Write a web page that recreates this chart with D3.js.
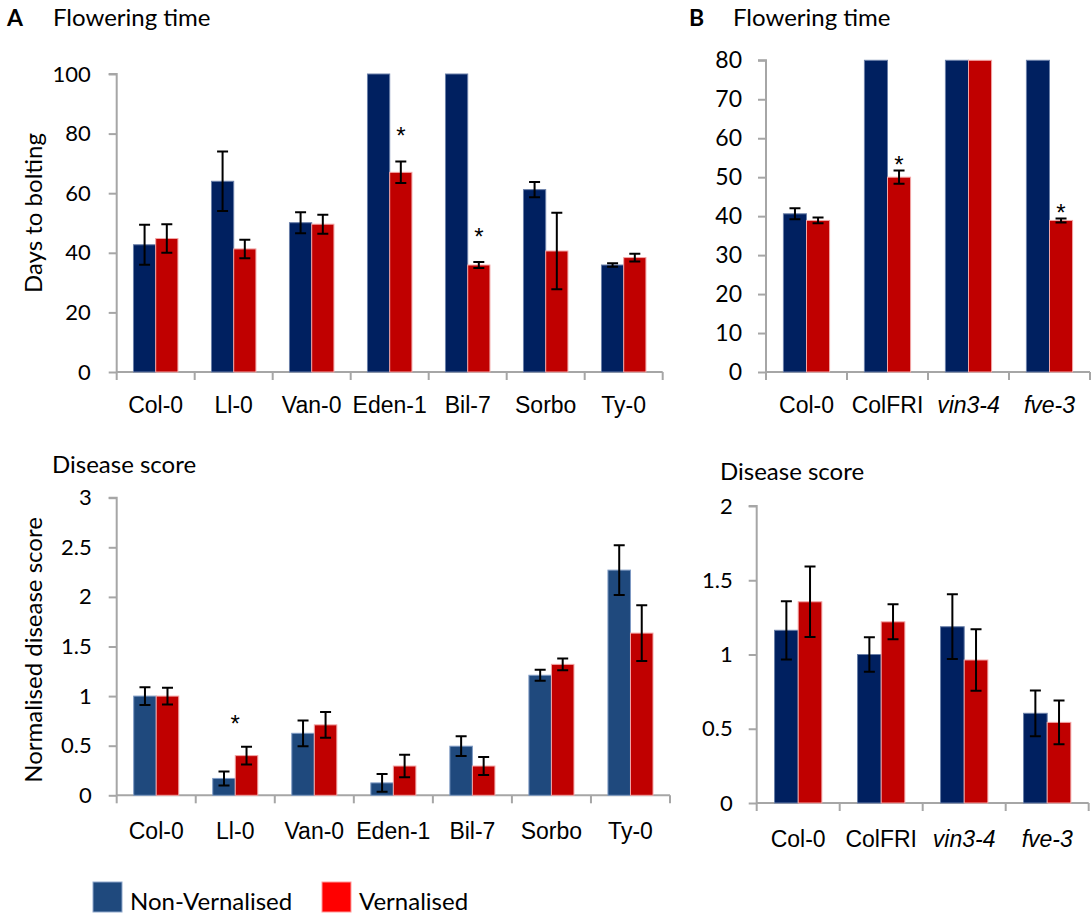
<!DOCTYPE html>
<html><head><meta charset="utf-8">
<script src="https://cdn.jsdelivr.net/npm/d3@7"></script>
<style>
html,body{margin:0;padding:0;background:#fff;}
svg{display:block;font-family:Lato,"Open Sans",sans-serif;}
</style></head>
<body>
<svg id="chart" width="1091" height="915"></svg>
<script>
// ---------- DATA ----------
const catsA = ["Col-0","Ll-0","Van-0","Eden-1","Bil-7","Sorbo","Ty-0"];
const catsB = ["Col-0","ColFRI","vin3-4","fve-3"];
const italicB = [false,false,true,true];
const seriesNames = ["Non-Vernalised","Vernalised"];

const flowA_nonVern    = [42.7, 64.0, 50.1, 100, 100, 61.2, 35.9];
const flowA_nonVernErr = [6.7, 10.0, 3.5, 0, 0, 2.6, 0.6];
const flowA_vern       = [44.8, 41.3, 49.6, 67.0, 35.9, 40.6, 38.4];
const flowA_vernErr    = [4.8, 3.1, 3.2, 3.6, 1.0, 12.8, 1.3];
const flowA_sig        = [false, false, false, true, true, false, false];

const flowB_nonVern    = [40.6, 80, 80, 80];
const flowB_nonVernErr = [1.4, 0, 0, 0];
const flowB_vern       = [38.9, 50.0, 80, 38.9];
const flowB_vernErr    = [0.75, 1.7, 0, 0.5];
const flowB_sig        = [false, true, false, true];

const disA_nonVern    = [1.0, 0.17, 0.625, 0.125, 0.495, 1.21, 2.27];
const disA_nonVernErr = [0.09, 0.07, 0.13, 0.09, 0.10, 0.055, 0.25];
const disA_vern       = [1.0, 0.40, 0.71, 0.295, 0.295, 1.32, 1.635];
const disA_vernErr    = [0.085, 0.09, 0.13, 0.114, 0.09, 0.06, 0.28];
const disA_sig        = [false, true, false, false, false, false, false];

const disB_nonVern    = [1.163, 1.0, 1.187, 0.604];
const disB_nonVernErr = [0.196, 0.116, 0.218, 0.154];
const disB_vern       = [1.355, 1.22, 0.963, 0.543];
const disB_vernErr    = [0.237, 0.118, 0.207, 0.147];
const disB_sig        = [false, false, false, false];

const ticksFlowA = [0,20,40,60,80,100];
const ticksFlowB = [0,10,20,30,40,50,60,70,80];
const ticksDisA  = [0,0.5,1,1.5,2,2.5,3];
const ticksDisB  = [0,0.5,1,1.5,2];

// ---------- DRAW ----------
const svg = d3.select("#chart");
const AXIS = "#a6a6a6";

function drawChart(c){
  const g = svg.append("g");
  const x = d3.scaleBand().domain(c.cats).range([c.x0, c.x1]).padding(0);
  const y = d3.scaleLinear().domain([0, c.max]).range([c.yb, c.yt]);
  const inner = d3.scaleBand().domain([0,1])
      .range([x.bandwidth()*0.215, x.bandwidth()*0.785]).padding(0);

  // y axis
  const ya = d3.axisLeft(y).tickValues(c.ticks).tickSize(8).tickPadding(c.tickPad)
      .tickFormat(d => String(d));
  const yg = g.append("g").attr("transform", `translate(${c.x0},0)`).call(ya);
  yg.select(".domain").attr("stroke", AXIS).attr("stroke-width", 2)
    .attr("d", `M-8,${c.yt}H0V${c.yb}`);
  yg.selectAll(".tick line").attr("stroke", AXIS).attr("stroke-width", 2);
  yg.selectAll(".tick text").attr("fill","#000").style("font-size", c.tickFs+"px")
    .style("font-family","Lato");

  // x axis
  const xa = d3.axisBottom(x).tickSize(0).tickPadding(0).tickFormat("");
  const xg = g.append("g").attr("transform", `translate(0,${c.yb})`).call(xa);
  xg.select(".domain").attr("stroke", AXIS).attr("stroke-width", 2)
    .attr("d", `M${c.x0},0H${c.x1}`);
  const bounds = c.cats.map(d => x(d)).concat([x(c.cats[c.cats.length-1]) + x.bandwidth()]);
  xg.selectAll("line.bt").data(bounds).join("line").attr("class","bt")
    .attr("x1", d=>d).attr("x2", d=>d).attr("y1", 0).attr("y2", 8)
    .attr("stroke", AXIS).attr("stroke-width", 2);
  xg.selectAll("text.xl").data(c.cats).join("text").attr("class","xl")
    .attr("x", d => x(d) + x.bandwidth()/2).attr("y", c.xlabDy)
    .attr("text-anchor","middle").style("font-size", c.xFs+"px")
    .style("font-style", (d,i) => c.italic && c.italic[i] ? "italic" : "normal")
    .attr("fill","#000").text(d => d);

  // bars
  const rows = [];
  c.cats.forEach((cat,i) => {
    rows.push({cat, s:0, v:c.s0[i], e:c.e0[i]});
    rows.push({cat, s:1, v:c.s1[i], e:c.e1[i]});
  });
  g.selectAll("rect.bar").data(rows).join("rect").attr("class","bar")
    .attr("x", d => x(d.cat) + inner(d.s))
    .attr("width", inner.bandwidth())
    .attr("y", d => y(d.v)).attr("height", d => y(0) - y(d.v))
    .attr("fill", d => c.fill[d.s]).attr("stroke", d => c.stroke[d.s]).attr("stroke-width", 1);

  // error bars
  const eb = rows.filter(d => d.e > 0);
  const cx = d => x(d.cat) + inner(d.s) + inner.bandwidth()/2;
  g.selectAll("path.err").data(eb).join("path").attr("class","err")
    .attr("d", d => {
      const X = cx(d), t = y(d.v + d.e), b = y(d.v - d.e);
      return `M${X},${t}V${b}M${X-5.5},${t}H${X+5.5}M${X-5.5},${b}H${X+5.5}`;
    })
    .attr("fill","none").attr("stroke","#000").attr("stroke-width", 2);

  // significance (asterisk glyph centre placed sigOff px above the error-bar top)
  const sig = c.cats.map((cat,i) => ({cat, i})).filter(d => c.sig[d.i]);
  g.selectAll("text.sig").data(sig).join("text").attr("class","sig")
    .attr("x", d => c.sigAtGroup ? x(d.cat) + x.bandwidth()/2
                                 : x(d.cat) + inner(1) + inner.bandwidth()/2)
    .attr("y", d => y(c.s1[d.i] + c.e1[d.i]) - c.sigOff + 0.57*24)
    .attr("text-anchor","middle")
    .style("font-family","'Liberation Sans',Arial,sans-serif")
    .style("font-size","24px").attr("fill","#000").text("*");
}

const darkFill = ["#002060","#C00000"], darkStroke = ["#6a7fa8","#f2a6a6"];
const midFill  = ["#1F497D","#C00000"], midStroke  = ["#7f9bc4","#f2a6a6"];

drawChart({cats:catsA, x0:116.7, x1:662.7, yb:372, yt:74, max:100, ticks:ticksFlowA,
  s0:flowA_nonVern, e0:flowA_nonVernErr, s1:flowA_vern, e1:flowA_vernErr, sig:flowA_sig,
  sigOff:31, sigAtGroup:false, fill:darkFill, stroke:darkStroke, tickFs:22, tickPad:18, xFs:23, xlabDy:41});
drawChart({cats:catsB, italic:italicB, x0:766, x1:1090, yb:372, yt:60.3, max:80, ticks:ticksFlowB,
  s0:flowB_nonVern, e0:flowB_nonVernErr, s1:flowB_vern, e1:flowB_vernErr, sig:flowB_sig,
  sigOff:11, sigAtGroup:false, fill:darkFill, stroke:darkStroke, tickFs:23, tickPad:16, xFs:23, xlabDy:41});
drawChart({cats:catsA, x0:116.7, x1:670, yb:795.3, yt:497.7, max:3, ticks:ticksDisA,
  s0:disA_nonVern, e0:disA_nonVernErr, s1:disA_vern, e1:disA_vernErr, sig:disA_sig,
  sigOff:28, sigAtGroup:true, fill:midFill, stroke:midStroke, tickFs:22, tickPad:17, xFs:23, xlabDy:44});
drawChart({cats:catsB, italic:italicB, x0:756.7, x1:1088.7, yb:803, yt:506, max:2, ticks:ticksDisB,
  s0:disB_nonVern, e0:disB_nonVernErr, s1:disB_vern, e1:disB_vernErr, sig:disB_sig,
  sigOff:11, sigAtGroup:false, fill:darkFill, stroke:darkStroke, tickFs:22, tickPad:16, xFs:23, xlabDy:44});

// titles
const T = (x,y,t,fs,bold) => svg.append("text").attr("x",x).attr("y",y)
   .style("font-size",fs+"px").style("font-weight",bold?"bold":"normal").attr("fill","#000").text(t);
T(7,26,"A",23,true); T(53,26,"Flowering time",24,false);
T(689,26,"B",23,true); T(733,26,"Flowering time",24,false);
T(52,473,"Disease score",24,false); T(720,480,"Disease score",24,false);

svg.append("text").attr("transform","translate(32,213) rotate(-90)")
  .attr("text-anchor","middle").attr("dominant-baseline","central")
  .style("font-size","24px").attr("fill","#000").text("Days to bolting");
svg.append("text").attr("transform","translate(32,650) rotate(-90)")
  .attr("text-anchor","middle").attr("dominant-baseline","central")
  .style("font-size","24px").attr("fill","#000").text("Normalised disease score");

// legend
const legFill = ["#1F497D","#FF0000"], legStroke = ["#8fa8cc","#ff9a9a"];
const legX = [93, 322];
const lg = svg.append("g");
lg.selectAll("rect").data(seriesNames).join("rect")
  .attr("x",(d,i)=>legX[i]).attr("y",882).attr("width",29).attr("height",30)
  .attr("fill",(d,i)=>legFill[i]).attr("stroke",(d,i)=>legStroke[i]).attr("stroke-width",1);
lg.selectAll("text").data(seriesNames).join("text")
  .attr("x",(d,i)=>legX[i]+37).attr("y",910)
  .style("font-size","24px").attr("fill","#000").text(d=>d);
</script>
</body></html>
